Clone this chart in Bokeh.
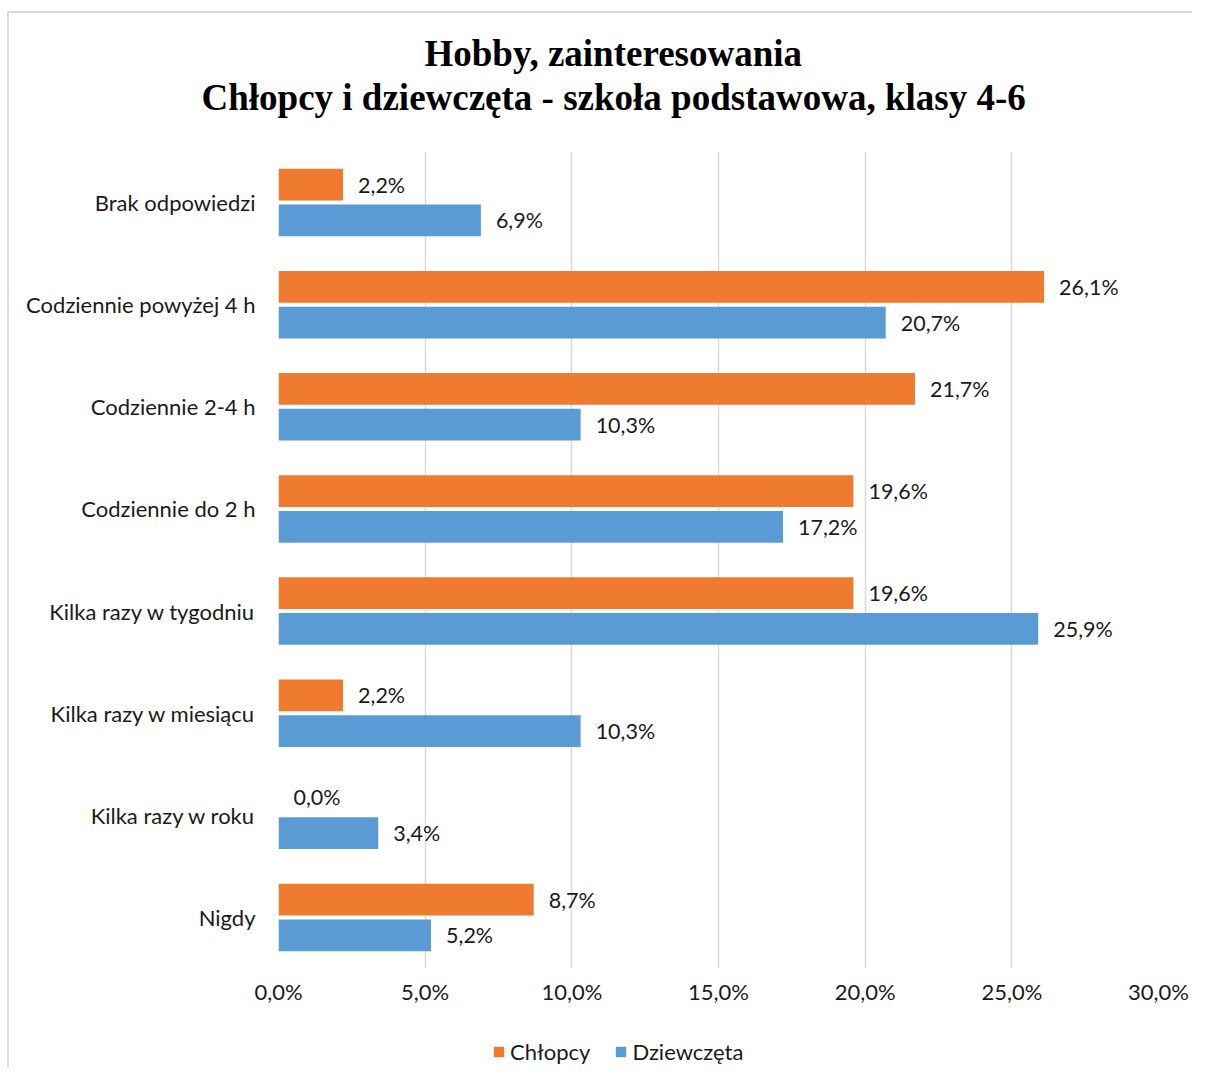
from bokeh.plotting import figure
from bokeh.models import ColumnDataSource, FactorRange, Range1d, FixedTicker, Legend, LegendItem, Title
from bokeh.layouts import column
from bokeh.transform import dodge
from bokeh.core.properties import value
from bokeh.embed import file_html
from bokeh.resources import INLINE

categories = ["Brak odpowiedzi", "Codziennie powyżej 4 h", "Codziennie 2-4 h", "Codziennie do 2 h",
              "Kilka razy w tygodniu", "Kilka razy w miesiącu", "Kilka razy w roku", "Nigdy"]
chlopcy = [2.2, 26.1, 21.7, 19.6, 19.6, 2.2, 0.0, 8.7]
dziewczeta = [6.9, 20.7, 10.3, 17.2, 25.9, 10.3, 3.4, 5.2]
x_ticks = [0, 5, 10, 15, 20, 25, 30]
x_tick_labels = ["0,0%", "5,0%", "10,0%", "15,0%", "20,0%", "25,0%", "30,0%"]
title_lines = ["Hobby, zainteresowania", "Chłopcy i dziewczęta - szkoła podstawowa, klasy 4-6"]
series_names = ["Chłopcy", "Dziewczęta"]

ORANGE = "#ee7b30"
BLUE = "#5b9bd5"
FONT = "Lato"
TXT = "#1a1a1a"

# chart container border (left/top visible) shifts the content
SHIFT_X, SHIFT_Y = 9, 13
W = 1192 - SHIFT_X
H_TITLE, H_MAIN, H_LEG = 151 - SHIFT_Y, 879, 37
FRAME_W = 880
LEFT = 278 - SHIFT_X


def fmt(v):
    return ("%.1f%%" % v).replace(".", ",")


def bare(fig):
    fig.min_border = 0
    fig.outline_line_color = None
    fig.background_fill_color = "white"
    fig.border_fill_color = "white"
    fig.grid.visible = False
    return fig


src_c = ColumnDataSource(dict(cat=categories, val=chlopcy, lab=[fmt(v) for v in chlopcy]))
src_d = ColumnDataSource(dict(cat=categories, val=dziewczeta, lab=[fmt(v) for v in dziewczeta]))

# ---------- main chart ----------
p = figure(width=W, height=H_MAIN, output_backend="svg", toolbar_location=None, title=None,
           y_range=FactorRange(*list(reversed(categories))), x_range=Range1d(0, 30))
p.min_border_left = LEFT
p.min_border_right = W - LEFT - FRAME_W
p.min_border_top = 0
p.min_border_bottom = H_MAIN - 817
p.outline_line_color = None
p.background_fill_color = "white"
p.border_fill_color = "white"

p.hbar(y=dodge("cat", 0.175, range=p.y_range), left=0, right="val", height=0.31,
       source=src_c, fill_color=ORANGE, line_color=None)
p.hbar(y=dodge("cat", -0.175, range=p.y_range), left=0, right="val", height=0.31,
       source=src_d, fill_color=BLUE, line_color=None)

for src, off in ((src_c, 0.175), (src_d, -0.175)):
    p.text(x="val", y=dodge("cat", off, range=p.y_range), text="lab", source=src,
           x_offset=15, text_baseline="middle", text_align="left",
           text_font=value(FONT), text_font_size="21.5px", text_color=TXT)

p.xaxis.ticker = FixedTicker(ticks=x_ticks)
p.xaxis.major_label_overrides = {t: l for t, l in zip(x_ticks, x_tick_labels)}
p.xaxis.axis_line_color = None
p.xaxis.major_tick_line_color = None
p.xaxis.minor_tick_line_color = None
p.xaxis.major_label_text_font = FONT
p.xaxis.major_label_text_font_size = "22px"
p.xaxis.major_label_text_color = TXT
p.xaxis.major_label_standoff = 3

p.yaxis.axis_line_color = None
p.yaxis.major_tick_line_color = None
p.yaxis.major_label_text_font = FONT
p.yaxis.major_label_text_font_size = "22px"
p.yaxis.major_label_text_color = TXT
p.yaxis.major_label_standoff = 17

p.xgrid.grid_line_color = "#d9d9d9"
p.xgrid.grid_line_width = 1.5
p.ygrid.grid_line_color = None

# ---------- title strip ----------
pt = bare(figure(width=W, height=H_TITLE, output_backend="svg", toolbar_location=None,
                 x_range=Range1d(0, 1), y_range=Range1d(0, 1),
                 x_axis_location=None, y_axis_location=None, title=None))
pt.min_border_top = 118 - SHIFT_Y
t2 = Title(text=title_lines[1], align="left", offset=-77, standoff=2,
           text_font="Liberation Serif", text_font_style="bold", text_font_size="37px",
           text_color="#000000")
t1 = Title(text=title_lines[0], align="left", offset=146, standoff=0,
           text_font="Liberation Serif", text_font_style="bold", text_font_size="37px",
           text_color="#000000")
pt.add_layout(t2, "above")
pt.add_layout(t1, "above")

# ---------- legend strip ----------
pl = bare(figure(width=W, height=H_LEG, output_backend="svg", toolbar_location=None,
                 x_range=Range1d(0, 30), y_range=FactorRange(*list(reversed(categories))),
                 x_axis_location=None, y_axis_location=None, title=None))
# hidden renderers of the two series, used only for the legend swatches
lr1 = pl.hbar(y="cat", left=0, right="val", height=0.3, source=src_c, fill_color=ORANGE,
              line_color=None, visible=False)
lr2 = pl.hbar(y="cat", left=0, right="val", height=0.3, source=src_d, fill_color=BLUE,
              line_color=None, visible=False)
legend = Legend(items=[LegendItem(label=series_names[0], renderers=[lr1]),
                       LegendItem(label=series_names[1], renderers=[lr2])],
                orientation="horizontal", location=(214, 2),
                label_text_font=FONT, label_text_font_size="22px", label_text_color=TXT,
                glyph_width=13, glyph_height=13, label_standoff=5, spacing=24,
                padding=0, margin=0, border_line_color=None, background_fill_alpha=0,
                inactive_fill_alpha=0)
pl.add_layout(legend, "center")

layout = column(pt, p, pl, spacing=0,
                styles={"border-left": "2px solid #d9d9d9", "border-top": "2px solid #d9d9d9",
                        "margin-left": "7px", "margin-top": "11px"})
open("out.html", "w").write(file_html(layout, INLINE))
